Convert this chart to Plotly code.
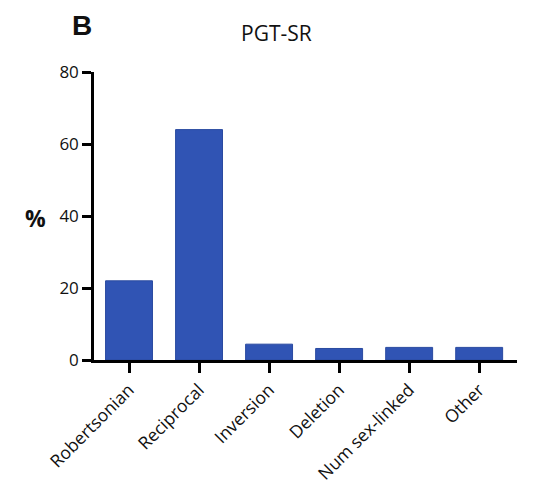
import plotly.graph_objects as go

categories = ["Robertsonian", "Reciprocal", "Inversion", "Deletion", "Num sex-linked", "Other"]
percent = [22, 64, 4.4, 3.2, 3.5, 3.5]
y_ticks = [0, 20, 40, 60, 80]

fig = go.Figure(go.Bar(
    x=categories, y=percent,
    marker=dict(color="#3054B4", line=dict(color="#2A4AA0", width=1)),
    width=0.67,
))

font = "Open Sans, DejaVu Sans, sans-serif"
W, H = 539, 488
L, R, T, B = 94, 22, 72, 128
pw, ph = W - L - R, H - T - B


def px(x, y):
    """pixel (from top-left) to paper coords"""
    return (x - L) / pw, (H - B - y) / ph


fig.update_layout(
    width=W, height=H,
    margin=dict(l=L, r=R, t=T, b=B),
    paper_bgcolor="white", plot_bgcolor="white",
    showlegend=False,
    font=dict(family=font, color="#111", size=16),
    xaxis=dict(
        range=[-0.5, 5.54], showline=True, linecolor="black", linewidth=2.5,
        ticks="outside", ticklen=10, tickwidth=2.5, tickcolor="black",
        tickangle=-45, tickfont=dict(size=17.5, family=font, color="#111"),
        showgrid=False, zeroline=False, automargin=False,
    ),
    yaxis=dict(
        range=[0, 80], tickvals=y_ticks, showline=True, linecolor="black", linewidth=2.5,
        ticks="outside", ticklen=9, tickwidth=2.5, tickcolor="black",
        tickfont=dict(size=17, family=font, color="#111"),
        showgrid=False, zeroline=False, automargin=False,
    ),
)

ann = [
    ("PGT-SR", 276, 33, dict(size=21, family=font, color="#111")),
    ("<b>B</b>", 82, 26, dict(size=28, family="Liberation Sans, Arial, sans-serif", color="#111")),
    ("<b>%</b>", 35, 218, dict(size=23, family=font, color="#111")),
]
for text, x, y, f in ann:
    xp, yp = px(x, y)
    fig.add_annotation(text=text, x=xp, y=yp, xref="paper", yref="paper",
                       xanchor="center", yanchor="middle", showarrow=False, font=f)

fig.write_html("out.html")
